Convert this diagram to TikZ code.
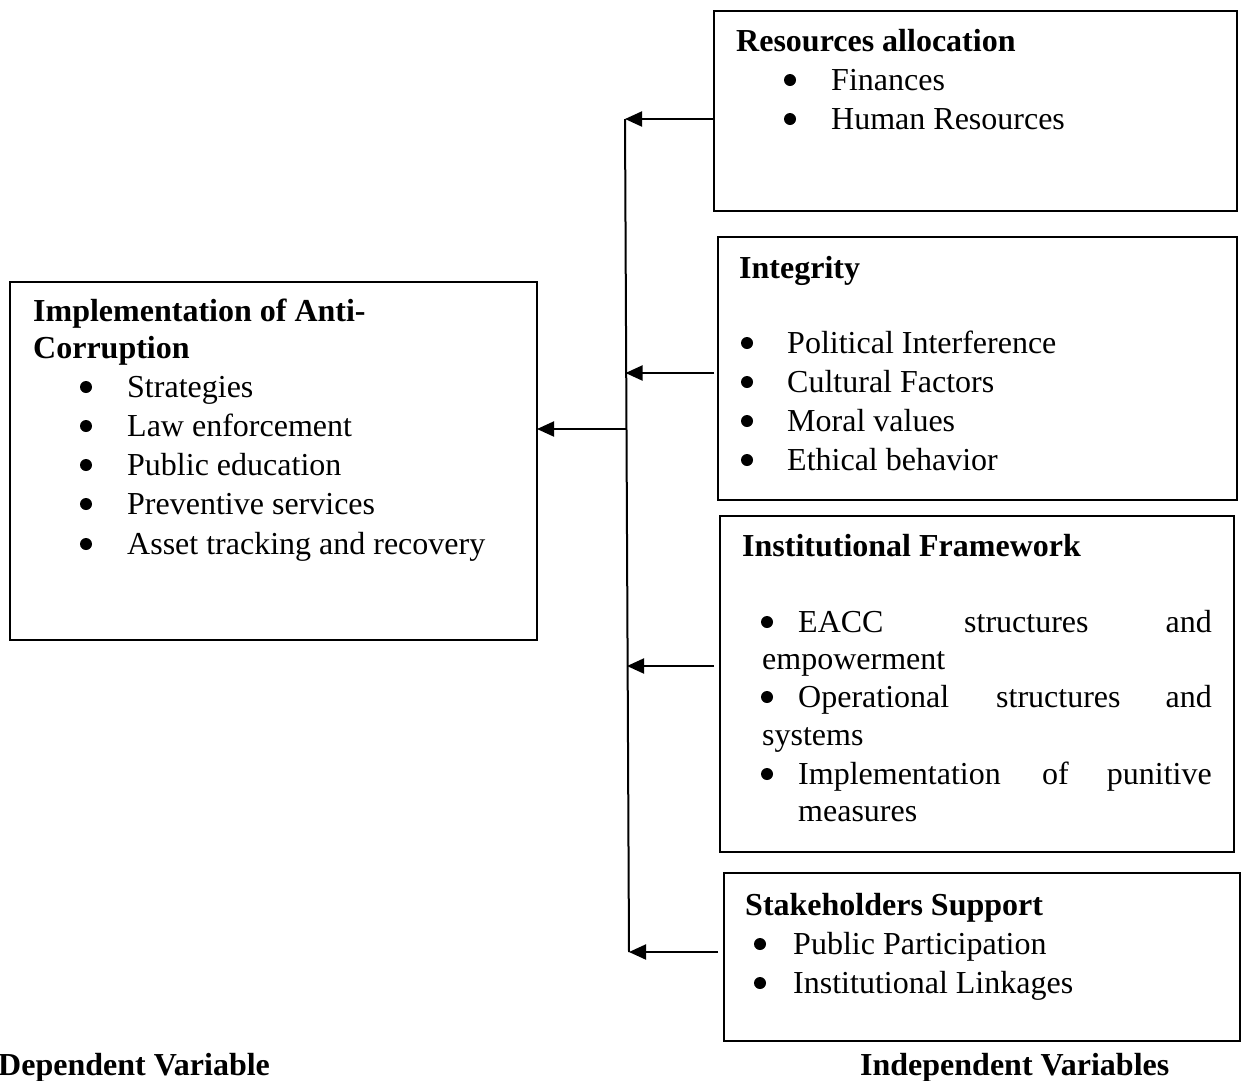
\documentclass[tikz,border=0pt]{standalone}
\usepackage{fontspec}
\setmainfont{Liberation Serif}
\usetikzlibrary{arrows.meta}
\begin{document}
\begin{tikzpicture}[x=1pt,y=-1pt,
 box/.style={draw, line width=1.6pt, inner sep=0pt, outer sep=0pt, anchor=north west},
 txt/.style={anchor=base west, inner sep=0pt, font=\fontsize{32}{38}\selectfont},
 txte/.style={anchor=base east, inner sep=0pt, font=\fontsize{32}{38}\selectfont},
 hd/.style={anchor=base west, inner sep=0pt, font=\fontsize{32}{38}\selectfont\bfseries},
 bul/.style={circle, fill, inner sep=0pt, minimum size=12pt, yshift=10pt},
 arr/.style={line width=2pt, -{Triangle[length=17pt,width=15pt]}},
 trunk/.style={line width=2pt}]
\path[use as bounding box] (0,0) rectangle (1248,1080);

% boxes
\node[box, minimum width=527pt, minimum height=358pt] (dep) at (10,282) {};
\node[box, minimum width=523pt, minimum height=200pt] (b1) at (714,11) {};
\node[box, minimum width=519pt, minimum height=263pt] (b2) at (718,237) {};
\node[box, minimum width=514pt, minimum height=336pt] (b3) at (720,516) {};
\node[box, minimum width=516pt, minimum height=168pt] (b4) at (724,873) {};

% dependent box text
\node[hd] (d0) at (33,321) {Implementation of Anti-};
\node[hd] (d1) at (33,358) {Corruption};
\foreach \y/\t [count=\i] in {397/Strategies,436/Law enforcement,475/Public education,514/Preventive services,554/Asset tracking and recovery}{
  \node[bul] (db\i) at (86,\y) {};
  \node[txt] (dt\i) at (127,\y) {\t};
}

% box 1
\node[hd] (h1) at (736,51) {Resources allocation};
\foreach \y/\t [count=\i] in {90/Finances,129/Human Resources}{
  \node[bul] (ab\i) at (790,\y) {};
  \node[txt] (at\i) at (831,\y) {\t};
}

% box 2
\node[hd] (h2) at (739,278) {Integrity};
\foreach \y/\t [count=\i] in {353/Political Interference,392/Cultural Factors,431/Moral values,470/Ethical behavior}{
  \node[bul] (ib\i) at (747,\y) {};
  \node[txt] (it\i) at (787,\y) {\t};
}

% box 3
\node[hd] (h3) at (742,556) {Institutional Framework};
\node[bul] (fb1) at (767,632) {};
\node[txt] (f1a) at (798,632) {EACC};
\node[txt] (f1b) at (964,632) {structures};
\node[txte] (f1c) at (1212,632) {and};
\node[txt] (f1d) at (762,669) {empowerment};
\node[bul] (fb2) at (767,707) {};
\node[txt] (f2a) at (798,707) {Operational};
\node[txt] (f2b) at (996,707) {structures};
\node[txte] (f2c) at (1212,707) {and};
\node[txt] (f2d) at (762,745) {systems};
\node[bul] (fb3) at (767,784) {};
\node[txt] (f3a) at (798,784) {Implementation};
\node[txt] (f3b) at (1042,784) {of};
\node[txte] (f3c) at (1212,784) {punitive};
\node[txt] (f3d) at (798,821) {measures};

% box 4
\node[hd] (h4) at (745,915) {Stakeholders Support};
\foreach \y/\t [count=\i] in {954/Public Participation,993/Institutional Linkages}{
  \node[bul] (sb\i) at (760,\y) {};
  \node[txt] (st\i) at (793,\y) {\t};
}

% captions
\node[hd] (cap1) at (-2,1075) {Dependent Variable};
\node[hd] (cap2) at (860,1075) {Independent Variables};

% connectors
\coordinate (ttop) at (625,119);
\coordinate (tmid) at (626,429);
\coordinate (t2) at (625.5,373);
\coordinate (t3) at (627,666);
\coordinate (tbot) at (629,952);
\coordinate (s1) at (714,119);
\coordinate (s2) at (714,373);
\coordinate (s3) at (714,666);
\coordinate (s4) at (718,952);
\draw[trunk] (ttop) -- (tbot);
\draw[arr] (s1) -- (ttop);
\draw[arr] (s2) -- (t2);
\draw[arr] (s3) -- (t3);
\draw[arr] (s4) -- (tbot);
\draw[arr] (tmid) -- (dep.east |- tmid);
\end{tikzpicture}
\end{document}
